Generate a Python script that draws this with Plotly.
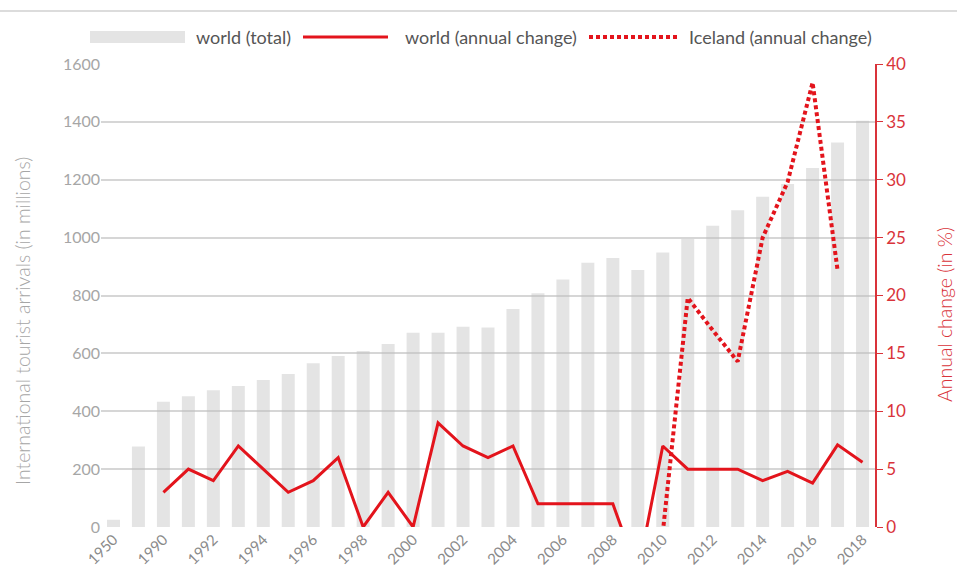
import plotly.graph_objects as go

years = ["1950", "1980"] + [str(y) for y in range(1990, 2019)]
world_total = [25, 278, 433, 452, 473, 487, 508, 529, 566, 591, 608, 632, 671, 671,
               692, 689, 753, 808, 855, 913, 930, 888, 949, 995, 1041, 1095, 1141,
               1185, 1241, 1329, 1404]
world_change_years = [str(y) for y in range(1990, 2019)]
world_change = [3, 5, 4, 7, 5, 3, 4, 6, 0, 3, 0, 9, 7, 6, 7, 2, 2, 2, 2, -4, 7,
                5, 5, 5, 4, 4.8, 3.8, 7.1, 5.6]
iceland_years = [str(y) for y in range(2010, 2018)]
iceland_change = [-0.5, 19.8, 17, 14.3, 25, 29.8, 38.4, 22.2]
tick_labels = ["1950"] + [str(y) for y in range(1990, 2019, 2)]
series_names = ["world (total)", "world (annual change)", "Iceland (annual change)"]
left_title = "International tourist arrivals (in millions)"
right_title = "Annual change (in %)"

RED = "#e3141c"
AXRED = "#d9333a"
GRAY_TXT = "#a6a6a6"
BAR = "rgba(190,190,190,0.42)"
FONT = "Lato"

W, H = 957, 569
ML, MR, MT, MB = 101, 82, 64, 42
PW, PH = W - ML - MR, H - MT - MB


def px(x):
    return (x - ML) / PW


def py(y):
    return (H - MB - y) / PH


fig = go.Figure()
fig.add_trace(go.Bar(x=years, y=world_total, name=series_names[0],
                     marker=dict(color=BAR, line=dict(width=0)), yaxis="y"))
fig.add_trace(go.Scatter(x=world_change_years, y=world_change, name=series_names[1],
                         mode="lines", line=dict(color=RED, width=3), yaxis="y2"))
fig.add_trace(go.Scatter(x=iceland_years, y=iceland_change, name=series_names[2],
                         mode="lines", line=dict(color=RED, width=4, dash="4px,3px"),
                         yaxis="y2"))

# custom legend (wide swatches like the reference)
LY = 37
shapes = [
    dict(type="line", xref="paper", yref="paper", x0=px(0), x1=px(W),
         y0=py(11), y1=py(11), line=dict(color="#dcdcdc", width=2)),
    dict(type="rect", xref="paper", yref="paper", x0=px(90), x1=px(185),
         y0=py(LY - 6), y1=py(LY + 6), fillcolor=BAR, line=dict(width=0)),
    dict(type="line", xref="paper", yref="paper", x0=px(303), x1=px(388),
         y0=py(LY), y1=py(LY), line=dict(color=RED, width=3)),
    dict(type="line", xref="paper", yref="paper", x0=px(589), x1=px(680),
         y0=py(LY), y1=py(LY), line=dict(color=RED, width=4, dash="4px,3px")),
]
annotations = [
    dict(xref="paper", yref="paper", x=px(x0), y=py(LY), text=t, showarrow=False,
         xanchor="left", yanchor="middle", font=dict(size=18, color="#555555"))
    for x0, t in zip([194, 403, 687], series_names)
]
annotations += [
    dict(xref="paper", yref="paper", x=px(22), y=py(321), text=left_title,
         showarrow=False, textangle=-90, xanchor="center", yanchor="middle",
         font=dict(size=19.5, color=GRAY_TXT, weight=300)),
    dict(xref="paper", yref="paper", x=px(944), y=py(315), text=right_title,
         showarrow=False, textangle=-90, xanchor="center", yanchor="middle",
         font=dict(size=19.5, color=AXRED, weight=300)),
]

fig.update_layout(
    width=W, height=H,
    margin=dict(l=ML, r=MR, t=MT, b=MB, autoexpand=False),
    paper_bgcolor="white", plot_bgcolor="white",
    font=dict(family=FONT, size=15, color=GRAY_TXT),
    bargap=0.48,
    showlegend=False,
    xaxis=dict(type="category", categoryorder="array", categoryarray=years,
               range=[-0.5, len(years) - 0.5],
               tickmode="array", tickvals=tick_labels, ticktext=tick_labels,
               tickangle=-45, tickfont=dict(size=15, color="#8a8a8a"),
               showgrid=False, showline=False, ticks="", zeroline=False,
               automargin=False),
    yaxis=dict(range=[0, 1600], dtick=200, showgrid=True, gridcolor="#d6d6d6",
               gridwidth=1.5, zeroline=False, showline=False, ticks="",
               tickfont=dict(size=16, color=GRAY_TXT), automargin=False),
    yaxis2=dict(range=[0, 40], dtick=5, overlaying="y", side="right",
                showgrid=False, zeroline=False, showline=True, linecolor=AXRED,
                linewidth=1.5, ticks="outside", ticklen=6, tickcolor=AXRED,
                tickfont=dict(size=17, color=AXRED), automargin=False),
    shapes=shapes,
    annotations=annotations,
)

fig.write_html("out.html", config={"displayModeBar": False},
               post_script="document.body.style.margin='0';document.body.style.overflow='hidden';")
